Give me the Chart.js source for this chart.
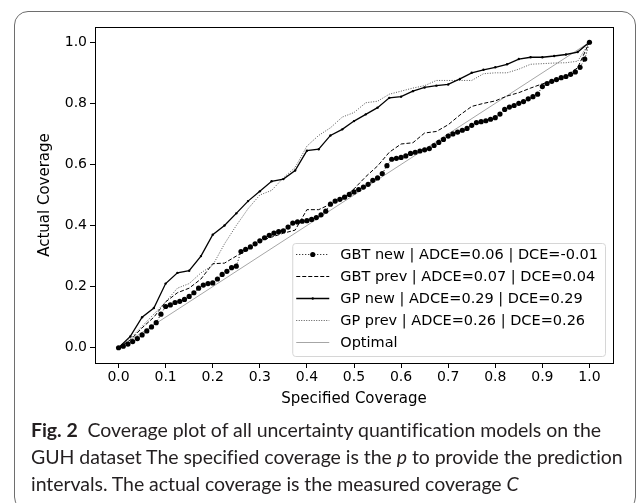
<!DOCTYPE html>
<html>
<head>
<meta charset="utf-8">
<script src="https://cdn.jsdelivr.net/npm/chart.js@4.4.1/dist/chart.umd.min.js"></script>
<style>
  html, body { margin: 0; padding: 0; background: #fff; }
  body { width: 637px; height: 503px; position: relative; overflow: hidden; }
  #frame { position: absolute; left: 14px; top: 11px; width: 622px; height: 500px;
           border: 1.5px solid #6e6e6e; border-radius: 14px; box-sizing: border-box; }
  #wrap { position: absolute; left: 0; top: 0; width: 637px; height: 420px; }
  #cap { position: absolute; left: 31px; top: 416px; font-family: Lato, sans-serif;
         font-size: 19.5px; line-height: 27px; letter-spacing: -0.05px; color: #231f20; white-space: nowrap; }
</style>
</head>
<body>
<div id="frame"></div>
<div id="wrap"><canvas id="chart"></canvas></div>
<div id="cap"><b>Fig. 2</b>&nbsp; Coverage plot of all uncertainty quantification models on the<br>GUH dataset The specified coverage is the <i>p</i> to provide the prediction<br>intervals. The actual coverage is the measured coverage <i>C</i></div>
<script>
// specified coverage grids
const pFine = [0,0.01,0.02,0.03,0.04,0.05,0.06,0.07,0.08,0.09,0.1,0.11,0.12,0.13,0.14,0.15,0.16,0.17,0.18,0.19,
  0.2,0.21,0.22,0.23,0.24,0.25,0.26,0.27,0.28,0.29,0.3,0.31,0.32,0.33,0.34,0.35,0.36,0.37,0.38,0.39,
  0.4,0.41,0.42,0.43,0.44,0.45,0.46,0.47,0.48,0.49,0.5,0.51,0.52,0.53,0.54,0.55,0.56,0.57,0.58,0.59,
  0.6,0.61,0.62,0.63,0.64,0.65,0.66,0.67,0.68,0.69,0.7,0.71,0.72,0.73,0.74,0.75,0.76,0.77,0.78,0.79,
  0.8,0.81,0.82,0.83,0.84,0.85,0.86,0.87,0.88,0.89,0.9,0.91,0.92,0.93,0.94,0.95,0.96,0.97,0.98,0.99,1]
const pCoarse = [0,0.025,0.05,0.075,0.1,0.125,0.15,0.175,0.2,0.225,0.25,0.275,0.3,0.325,0.35,0.375,
  0.4,0.425,0.45,0.475,0.5,0.525,0.55,0.575,0.6,0.625,0.65,0.675,0.7,0.725,0.75,0.775,
  0.8,0.825,0.85,0.875,0.9,0.925,0.95,0.975,1]
const pOptimal = [0, 1]

// actual coverage
const gbtNew = [0,0.005,0.012,0.02,0.03,0.042,0.055,0.068,0.082,0.11,0.135,0.14,0.148,0.152,0.158,0.168,0.18,0.195,0.205,0.21,
  0.212,0.225,0.24,0.25,0.262,0.267,0.315,0.322,0.33,0.34,0.35,0.36,0.368,0.375,0.38,0.383,0.395,0.408,0.412,0.414,
  0.416,0.42,0.426,0.435,0.447,0.47,0.48,0.486,0.493,0.502,0.51,0.518,0.526,0.535,0.548,0.556,0.57,0.596,0.617,0.62,
  0.623,0.628,0.636,0.64,0.644,0.648,0.652,0.662,0.672,0.682,0.693,0.7,0.706,0.712,0.718,0.728,0.737,0.74,0.743,0.748,
  0.753,0.765,0.78,0.788,0.793,0.8,0.806,0.815,0.822,0.83,0.855,0.865,0.872,0.878,0.884,0.888,0.895,0.903,0.918,0.945,1]
const gbtPrev = [0,0.025,0.065,0.1,0.15,0.18,0.195,0.225,0.275,0.277,0.3,0.322,0.349,0.362,0.375,0.385,
  0.452,0.452,0.47,0.485,0.52,0.56,0.595,0.64,0.667,0.671,0.703,0.708,0.73,0.762,0.79,0.8,
  0.808,0.824,0.835,0.85,0.864,0.874,0.888,0.917,1]
const gpNew = [0,0.037,0.1,0.13,0.21,0.245,0.252,0.3,0.37,0.4,0.44,0.48,0.512,0.545,0.552,0.58,
  0.645,0.65,0.695,0.715,0.742,0.764,0.786,0.818,0.822,0.84,0.852,0.858,0.862,0.88,0.9,0.91,
  0.918,0.928,0.945,0.951,0.951,0.955,0.96,0.968,1]
const gpPrev = [0,0.03,0.07,0.11,0.15,0.195,0.21,0.245,0.27,0.34,0.4,0.455,0.5,0.515,0.556,0.59,
  0.66,0.695,0.72,0.755,0.77,0.802,0.807,0.83,0.84,0.85,0.858,0.875,0.875,0.875,0.875,0.897,
  0.9,0.9,0.912,0.928,0.93,0.932,0.933,0.938,1]
const optimal = [0, 1]

const seriesLabels = ['GBT new | ADCE=0.06 | DCE=-0.01', 'GBT prev | ADCE=0.07 | DCE=0.04',
  'GP new | ADCE=0.29 | DCE=0.29', 'GP prev | ADCE=0.26 | DCE=0.26', 'Optimal']
const xTicks = [0,0.1,0.2,0.3,0.4,0.5,0.6,0.7,0.8,0.9,1.0]
const yTicks = [0,0.2,0.4,0.6,0.8,1.0]

function pts(xs, ys){
  return ys.map((y,i)=>({x: xs[i], y: y}))
}

const FONT = 'DejaVu Sans'

// box round the plot, like matplotlib spines
const boxPlugin = {
  id: 'boxPlugin',
  afterDraw(chart){
    const a = chart.chartArea, ctx = chart.ctx
    ctx.save()
    ctx.strokeStyle = '#000'
    ctx.lineWidth = 1
    ctx.strokeRect(Math.round(a.left)+0.5, Math.round(a.top)+0.5, Math.round(a.right-a.left), Math.round(a.bottom-a.top))
    ctx.restore()
  }
}

// legend drawn inside the plot, lower right
const legendPlugin = {
  id: 'legendPlugin',
  afterDraw(chart){
    const a = chart.chartArea, ctx = chart.ctx
    const ds = chart.data.datasets
    ctx.save()
    ctx.font = '14.5px "' + FONT + '"'
    let tw = 0
    ds.forEach(d=>{ tw = Math.max(tw, ctx.measureText(d.label).width) })
    const rowH = 22
    const w = 48 + tw + 7
    const h = rowH*ds.length + 3
    const left = a.right - 8 - w
    const top = a.bottom - 7 - h
    ctx.beginPath()
    ctx.roundRect(left+0.5, top+0.5, w, h, 3)
    ctx.fillStyle = 'rgba(255,255,255,0.85)'
    ctx.fill()
    ctx.strokeStyle = '#d6d6d6'
    ctx.lineWidth = 1
    ctx.stroke()
    ds.forEach((d,i)=>{
      const y = top + 11 + i*rowH + 0.5
      ctx.beginPath()
      ctx.setLineDash(d.borderDash || [])
      ctx.strokeStyle = d.borderColor
      ctx.lineWidth = d.borderWidth
      ctx.moveTo(left+4, y)
      ctx.lineTo(left+37, y)
      ctx.stroke()
      ctx.setLineDash([])
      if (d.pointRadius > 0){
        ctx.beginPath()
        ctx.arc(left+20.5, y, d.pointRadius, 0, Math.PI*2)
        ctx.fillStyle = d.pointBackgroundColor
        ctx.fill()
      }
      ctx.fillStyle = '#000'
      ctx.textBaseline = 'middle'
      ctx.fillText(d.label, left+48, y+1)
    })
    ctx.restore()
  }
}

new Chart('chart', {
  type: 'line',
  data: {
    datasets: [
      { label: seriesLabels[0], data: pts(pFine, gbtNew), borderColor: '#000', borderWidth: 1,
        borderDash: [1, 2], pointRadius: 2.6, pointBackgroundColor: '#000', pointBorderWidth: 0, tension: 0 },
      { label: seriesLabels[1], data: pts(pCoarse, gbtPrev), borderColor: '#000', borderWidth: 1,
        borderDash: [4, 2], pointRadius: 0, tension: 0 },
      { label: seriesLabels[2], data: pts(pCoarse, gpNew), borderColor: '#000', borderWidth: 1.3,
        pointRadius: 1.2, pointBackgroundColor: '#000', pointBorderWidth: 0, tension: 0 },
      { label: seriesLabels[3], data: pts(pCoarse, gpPrev), borderColor: '#444', borderWidth: 0.9,
        borderDash: [1, 1.5], pointRadius: 0, tension: 0 },
      { label: seriesLabels[4], data: pts(pOptimal, optimal), borderColor: '#a6a6a6', borderWidth: 1,
        pointRadius: 0, tension: 0 }
    ]
  },
  options: {
    responsive: true,
    maintainAspectRatio: false,
    animation: false,
    layout: { padding: { left: 0, top: 27, right: 24, bottom: 0 } },
    plugins: { legend: { display: false }, tooltip: { enabled: false } },
    scales: {
      x: {
        type: 'linear', min: -0.05, max: 1.05,
        afterBuildTicks: s => { s.ticks = xTicks.map(v=>({value: v})) },
        afterFit: s => { s.height = 57 },
        ticks: { color: '#000', padding: 1, font: { family: FONT, size: 14 }, callback: v => v.toFixed(1), maxRotation: 0 },
        grid: { drawOnChartArea: false, drawTicks: true, tickLength: 5, color: '#000' },
        border: { color: '#000', width: 1 },
        title: { display: true, text: 'Specified Coverage', color: '#000', padding: { top: 0, bottom: 12 },
                 font: { family: FONT, size: 15 } }
      },
      y: {
        type: 'linear', min: -0.05, max: 1.05,
        afterBuildTicks: s => { s.ticks = yTicks.map(v=>({value: v})) },
        afterFit: s => { s.width = 95 },
        ticks: { color: '#000', padding: 3, font: { family: FONT, size: 14 }, callback: v => v.toFixed(1) },
        grid: { drawOnChartArea: false, drawTicks: true, tickLength: 5, color: '#000' },
        border: { color: '#000', width: 1 },
        title: { display: true, text: 'Actual Coverage', color: '#000', padding: { top: 36, bottom: 0 },
                 font: { family: FONT, size: 15 } }
      }
    }
  },
  plugins: [boxPlugin, legendPlugin]
})
</script>
</body>
</html>
